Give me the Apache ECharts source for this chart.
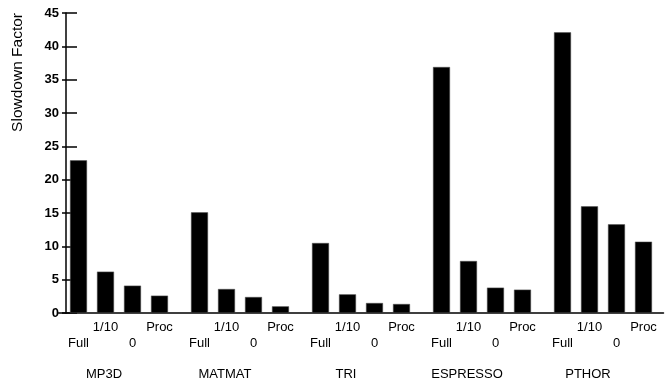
<!DOCTYPE html>
<html>
<head>
<meta charset="utf-8">
<script src="https://cdn.jsdelivr.net/npm/echarts@6/dist/echarts.min.js"></script>
<style>
html,body{margin:0;padding:0;background:#fff;}
#chart{width:665px;height:381px;}
</style>
</head>
<body>
<div id="chart"></div>
<script>
const categories = ['MP3D', 'MATMAT', 'TRI', 'ESPRESSO', 'PTHOR'];
const seriesNames = ['Full', '1/10', '0', 'Proc'];
const fullValues = [22.9, 15.1, 10.5, 36.9, 42.1];
const tenthValues = [6.2, 3.6, 2.8, 7.8, 16.0];
const zeroValues = [4.1, 2.4, 1.5, 3.8, 13.3];
const procValues = [2.6, 1.0, 1.35, 3.5, 10.7];
const yTicks = [0, 5, 10, 15, 20, 25, 30, 35, 40, 45];

const FONT = 'Liberation Sans, Arial, sans-serif';
const allValues = [fullValues, tenthValues, zeroValues, procValues];
const labelDist = [23.5, 8, 23.5, 8];

const chart = echarts.init(document.getElementById('chart'), null, {renderer: 'canvas'});
const yCommon = {
  type: 'value',
  min: yTicks[0],
  max: yTicks[yTicks.length - 1],
  interval: yTicks[1] - yTicks[0],
  position: 'left',
  offset: -7.5,
  splitLine: {show: false}
};
chart.setOption({
  animation: false,
  backgroundColor: '#ffffff',
  grid: {left: 58.5, top: 13, width: 605, bottom: 66.7, containLabel: false},
  xAxis: {
    type: 'category',
    data: categories,
    axisLine: {show: true, lineStyle: {color: '#000', width: 1.5}},
    axisTick: {show: false},
    axisLabel: {
      margin: 55,
      color: '#000',
      fontFamily: FONT,
      fontSize: 13,
      padding: [0, 30, 0, 0]
    }
  },
  yAxis: [
    Object.assign({}, yCommon, {
      name: 'Slowdown Factor',
      nameLocation: 'end',
      nameGap: 0,
      nameRotate: 90,
      nameTextStyle: {
        color: '#000', fontFamily: FONT, fontSize: 15.5,
        align: 'right', verticalAlign: 'bottom', padding: [0, 0, 40, 0]
      },
      axisLine: {show: true, lineStyle: {color: '#000', width: 1.5}},
      axisTick: {show: true, inside: true, length: 11, lineStyle: {color: '#000', width: 1.5}},
      axisLabel: {color: '#000', fontFamily: FONT, fontSize: 13, fontWeight: 'bold', margin: 7}
    }),
    Object.assign({}, yCommon, {
      axisLine: {show: false},
      axisTick: {show: true, inside: false, length: 4, lineStyle: {color: '#000', width: 1.5}},
      axisLabel: {show: false}
    })
  ],
  series: seriesNames.map((name, i) => ({
    name: name,
    type: 'bar',
    yAxisIndex: 0,
    data: allValues[i],
    barWidth: 17,
    barGap: '58.8%',
    itemStyle: {color: '#000', borderColor: '#555', borderWidth: 0.5},
    label: {
      show: true,
      position: 'bottom',
      distance: labelDist[i],
      formatter: () => name,
      color: '#000',
      fontFamily: FONT,
      fontSize: 13
    }
  }))
});
</script>
</body>
</html>
